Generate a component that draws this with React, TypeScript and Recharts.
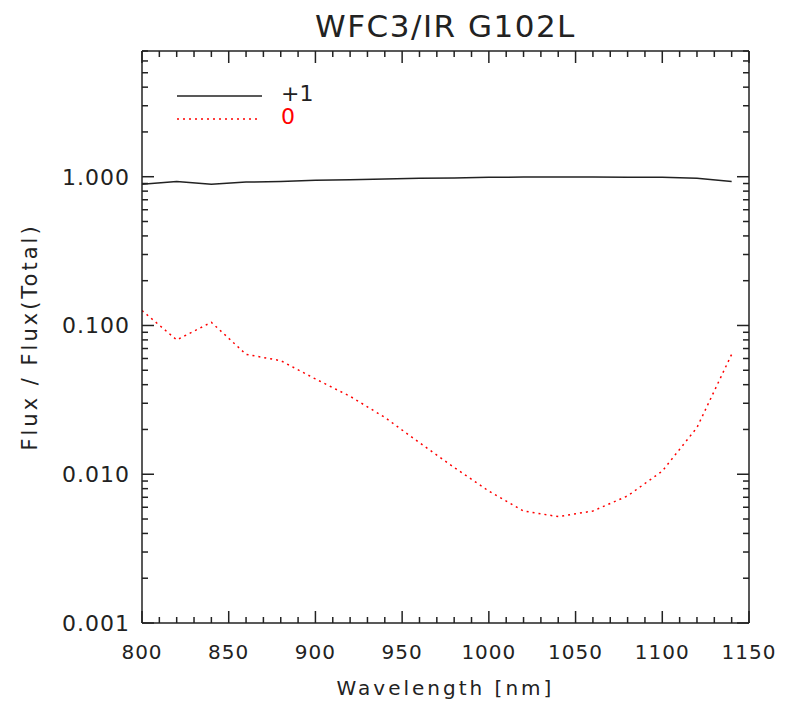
import React from "react";
import { LineChart, Line, XAxis, YAxis, Legend, Label } from "recharts";

// wavelength grid [nm] and fraction of the total flux per order
const wavelength = [800, 820, 840, 860, 880, 900, 920, 940, 960, 980, 1000, 1020, 1040, 1060, 1080, 1100, 1120, 1140];
const orderPlus1 = [0.89, 0.93, 0.89, 0.92, 0.93, 0.945, 0.955, 0.965, 0.975, 0.98, 0.99, 0.995, 0.995, 0.995, 0.99, 0.99, 0.975, 0.93];
const order0 = [0.126, 0.08, 0.105, 0.064, 0.058, 0.0437, 0.0334, 0.0241, 0.0163, 0.0111, 0.0077, 0.00566, 0.00519, 0.00566, 0.00715, 0.0105, 0.0206, 0.064];

const xMajor = [800, 850, 900, 950, 1000, 1050, 1100, 1150];
const yMajor = [0.001, 0.01, 0.1, 1];

const xTicks: number[] = [];
for (let v = 800; v <= 1150; v += 10) xTicks.push(v);
const yTicks: number[] = [];
yMajor.forEach((d) => {
  for (let m = 1; m <= 9; m++) {
    const v = +(d * m).toPrecision(3);
    if (v <= 7) yTicks.push(v);
  }
});

const data = wavelength.map((w, i) => ({ w, p1: orderPlus1[i], p0: order0[i] }));

const INK = "#222";
const FONT = "'DejaVu Sans', sans-serif";
const MAJOR = 12;
const MINOR = 6;

const isYMajor = (v: number) => Math.abs(Math.log10(v) - Math.round(Math.log10(v))) < 1e-6;
const isXMajor = (v: number) => v % 50 === 0;

const LeftTick = (p: any) => {
  const v = p.payload.value;
  const major = isYMajor(v);
  return (
    <g>
      <line x1={p.x} x2={p.x + (major ? MAJOR : MINOR)} y1={p.y} y2={p.y} stroke={INK} strokeWidth={1.5} />
      {major && (
        <text x={p.x - 12} y={p.y + 8} textAnchor="end" fontSize={22} letterSpacing={1} fill={INK} fontFamily={FONT}>
          {v.toFixed(3)}
        </text>
      )}
    </g>
  );
};

const RightTick = (p: any) => {
  const major = isYMajor(p.payload.value);
  return <line x1={p.x} x2={p.x - (major ? MAJOR : MINOR)} y1={p.y} y2={p.y} stroke={INK} strokeWidth={1.5} />;
};

const BottomTick = (p: any) => {
  const v = p.payload.value;
  const major = isXMajor(v);
  return (
    <g>
      <line x1={p.x} x2={p.x} y1={p.y} y2={p.y - (major ? MAJOR : MINOR)} stroke={INK} strokeWidth={1.5} />
      {major && (
        <text x={p.x} y={p.y + 36} textAnchor="middle" fontSize={20} letterSpacing={1} fill={INK} fontFamily={FONT}>
          {v}
        </text>
      )}
    </g>
  );
};

const TopTick = (p: any) => {
  const major = isXMajor(p.payload.value);
  return <line x1={p.x} x2={p.x} y1={p.y} y2={p.y + (major ? MAJOR : MINOR)} stroke={INK} strokeWidth={1.5} />;
};

const LegendBox = () => (
  <svg width={150} height={52} style={{ display: "block" }}>
    <line x1={0} x2={85} y1={16} y2={16} stroke={INK} strokeWidth={1.5} />
    <text x={104} y={21} fontSize={22} fill={INK} fontFamily={FONT}>+1</text>
    <line x1={0} x2={83} y1={39} y2={39} stroke="#ff0000" strokeWidth={1.5} strokeDasharray="2 4" />
    <text x={104} y={44} fontSize={22} fill="#ff0000" fontFamily={FONT}>0</text>
  </svg>
);

export default function App() {
  return (
    <div style={{ width: 777, height: 698, background: "#fff" }}>
      <LineChart width={777} height={698} data={data} margin={{ top: 42, right: 35, bottom: 3, left: 0 }}>
        <XAxis
          dataKey="w"
          type="number"
          domain={[800, 1150]}
          ticks={xTicks}
          interval={0}
          height={80}
          tickSize={0}
          tickMargin={0}
          tickLine={false}
          axisLine={{ stroke: INK, strokeWidth: 1.5 }}
          tick={<BottomTick />}
          allowDataOverflow
        >
          <Label
            value="Wavelength [nm]"
            position="insideBottom"
            offset={8}
            fontSize={20}
            letterSpacing={3}
            fill={INK}
            fontFamily={FONT}
          />
        </XAxis>
        <XAxis
          xAxisId="t"
          orientation="top"
          dataKey="w"
          type="number"
          domain={[800, 1150]}
          ticks={xTicks}
          interval={0}
          height={1}
          tickSize={0}
          tickMargin={0}
          tickLine={false}
          axisLine={{ stroke: INK, strokeWidth: 1.5 }}
          tick={<TopTick />}
          allowDataOverflow
        >
          <Label
            content={(props: any) => {
              const vb = props.viewBox;
              return (
                <text x={vb.x + vb.width / 2} y={vb.y - 13} textAnchor="middle" fontSize={31} letterSpacing={1.5} fill={INK} fontFamily={FONT}>
                  WFC3/IR G102L
                </text>
              );
            }}
          />
        </XAxis>
        <YAxis
          type="number"
          scale="log"
          domain={[0.001, 7]}
          ticks={yTicks}
          interval={0}
          width={134}
          tickSize={0}
          tickMargin={0}
          tickLine={false}
          axisLine={{ stroke: INK, strokeWidth: 1.5 }}
          tick={<LeftTick />}
          allowDataOverflow
        >
          <Label
            content={(props: any) => {
              const vb = props.viewBox;
              const cx = 22;
              const cy = vb.y + vb.height / 2;
              return (
                <text x={cx} y={cy} transform={`rotate(-90 ${cx} ${cy})`} textAnchor="middle" dominantBaseline="central" fontSize={21} letterSpacing={3} fill={INK} fontFamily={FONT}>
                  Flux / Flux(Total)
                </text>
              );
            }}
          />
        </YAxis>
        <YAxis
          yAxisId="r"
          orientation="right"
          type="number"
          scale="log"
          domain={[0.001, 7]}
          ticks={yTicks}
          interval={0}
          width={1}
          tickSize={0}
          tickMargin={0}
          tickLine={false}
          axisLine={{ stroke: INK, strokeWidth: 1.5 }}
          tick={<RightTick />}
          allowDataOverflow
        />
        <Legend
          layout="horizontal"
          verticalAlign="middle"
          align="center"
          wrapperStyle={{ position: "absolute", left: 169, top: 72, width: 150, height: 52 }}
          content={() => <LegendBox />}
        />
        <Line dataKey="p1" type="linear" stroke={INK} strokeWidth={1.5} dot={false} isAnimationActive={false} />
        <Line dataKey="p0" type="linear" stroke="#ff0000" strokeWidth={1.5} strokeDasharray="2 4" dot={false} isAnimationActive={false} />
      </LineChart>
    </div>
  );
}
